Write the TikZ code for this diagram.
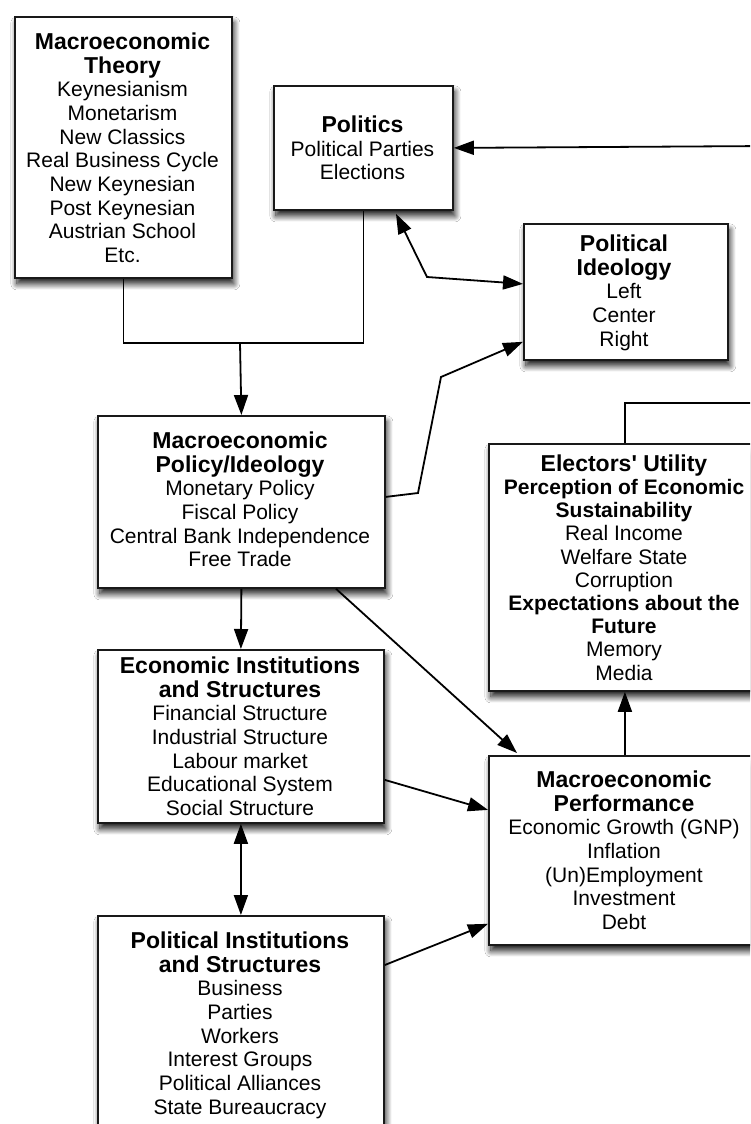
\documentclass[tikz,border=0pt]{standalone}
\usepackage{fontspec}
\setmainfont{Liberation Sans}
\usetikzlibrary{arrows.meta,shadows.blur}
\newcommand{\ttl}[1]{{\fontsize{23}{25}\selectfont\bfseries #1}}
\newcommand{\sub}[1]{{\bfseries #1}}
\tikzset{
  box/.style={draw=black!90, line width=1.8pt, fill=white, inner sep=0pt,
    anchor=north west,
    blur shadow={shadow xshift=2pt, shadow yshift=-6pt, shadow blur radius=6pt, shadow blur steps=14, shadow opacity=90}},
  txt/.style={align=center, inner sep=0pt, anchor=north, font=\fontsize{21}{23.7}\selectfont},
  conn/.style={line width=1.8pt, draw=black},
  arr/.style={conn, -{Triangle[length=20pt,width=14pt]}},
  darr/.style={conn, {Triangle[length=20pt,width=14pt]}-{Triangle[length=20pt,width=14pt]}}
}
\begin{document}
\begin{tikzpicture}[x=1pt,y=-1pt]
\useasboundingbox (0,0) rectangle (750,1124);
\fill[white] (0,0) rectangle (750,1124);
\clip (0,0) rectangle (750,1124);

% boxes
\node[box, minimum width=217pt, minimum height=261pt] (theory) at (14,16) {};
\node[box, minimum width=179pt, minimum height=124pt] (politics) at (273,85) {};
\node[box, minimum width=204pt, minimum height=136pt] (ideo) at (523,223) {};
\node[box, minimum width=287pt, minimum height=172pt] (policy) at (97,415) {};
\node[box, minimum width=272pt, minimum height=247pt] (elect) at (488,443) {};
\node[box, minimum width=286pt, minimum height=173pt] (econ) at (97,649) {};
\node[box, minimum width=272pt, minimum height=189pt] (perf) at (488,755) {};
\node[box, minimum width=286pt, minimum height=240pt] (polinst) at (97,915) {};

% texts
\node[txt] (theoryT) at (122.5,32.5) {\ttl{Macroeconomic}\\\ttl{Theory}\\Keynesianism\\Monetarism\\New Classics\\Real Business Cycle\\New Keynesian\\Post Keynesian\\Austrian School\\Etc.};
\node[txt] (politicsT) at (362.5,115.5) {\ttl{Politics}\\Political Parties\\Elections};
\node[txt] (ideoT) at (624,234.5) {\ttl{Political}\\\ttl{Ideology}\\Left\\Center\\Right};
\node[txt] (policyT) at (240,431.5) {\ttl{Macroeconomic}\\\ttl{Policy/Ideology}\\Monetary Policy\\Fiscal Policy\\Central Bank Independence\\Free Trade};
\node[txt, font=\fontsize{21}{23.2}\selectfont] (electT) at (624,454.5) {\ttl{Electors\textquotesingle\ Utility}\\\sub{Perception of Economic}\\\sub{Sustainability}\\Real Income\\Welfare State\\Corruption\\\sub{Expectations about the}\\\sub{Future}\\Memory\\Media};
\node[txt] (econT) at (240,656.5) {\ttl{Economic Institutions}\\\ttl{and Structures}\\Financial Structure\\Industrial Structure\\Labour market\\Educational System\\Social Structure};
\node[txt] (perfT) at (624,770.5) {\ttl{Macroeconomic}\\\ttl{Performance}\\Economic Growth (GNP)\\Inflation\\(Un)Employment\\Investment\\Debt};
\node[txt] (polinstT) at (240,931.5) {\ttl{Political Institutions}\\\ttl{and Structures}\\Business\\Parties\\Workers\\Interest Groups\\Political Alliances\\State Bureaucracy};

% helper coordinates
\coordinate (join) at (240,343);
\coordinate (offR) at (770,146);
\coordinate (offE) at (770,403);
\coordinate (b1) at (427,277);
\coordinate (b2) at (418,493);
\coordinate (b3) at (441,377);

% connectors
\draw[arr] (offR) -- (politics.east);
\draw[conn] (theory.south) |- (join) -| (politics.south);
\draw[arr] (join) -- (policy.north);
\draw[darr] ([xshift=123pt,yshift=-3pt]politics.south west) -- (b1) -- ([yshift=8pt]ideo.west);
\draw[arr] ([yshift=5pt]policy.east) -- (b2) -- (b3) -- ([yshift=19pt]ideo.south west);
\draw[arr] (policy.south) -- (econ.north);
\draw[arr] ([xshift=239pt]policy.south west) -- ([xshift=29pt,yshift=2pt]perf.north west);
\draw[arr] ([yshift=-43.5pt]econ.east) -- ([yshift=40.5pt]perf.west);
\draw[darr] (econ.south) -- (polinst.north);
\draw[arr] ([yshift=-50pt]polinst.north east) -- ([yshift=22pt]perf.south west);
\draw[arr] (perf.north) -- (elect.south);
\draw[conn] (elect.north) |- (offE);
\end{tikzpicture}
\end{document}
